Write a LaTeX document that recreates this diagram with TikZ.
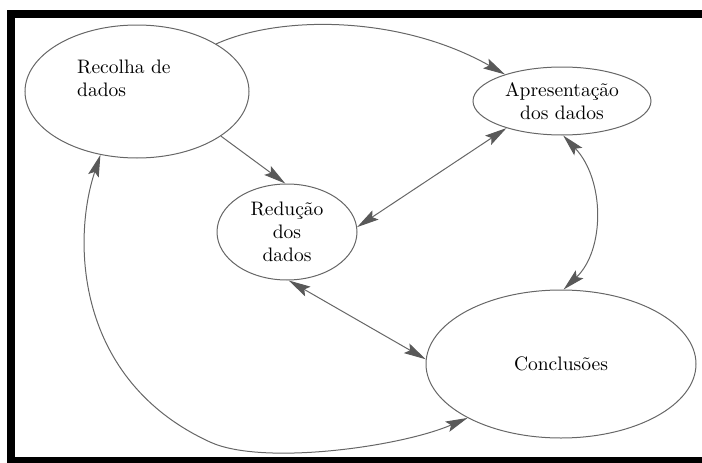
\documentclass[tikz,border=0pt]{standalone}
\usepackage{fontspec}
\setmainfont{lmroman10-regular.otf}[BoldFont=lmroman10-bold.otf, ItalicFont=lmroman10-italic.otf]
\usetikzlibrary{shapes.geometric,arrows.meta}
\tikzset{hd/.tip={Stealth[length=22pt,width=11pt,inset=4pt,fill=black!65,color=black!65]}}
\begin{document}
\begin{tikzpicture}[x=1pt,y=-1pt,
  bubble/.style={draw=black!60, line width=1pt, ellipse, inner sep=0pt, align=center,
    font=\fontsize{19.5}{23}\selectfont, text=black},
  conn/.style={draw=black!60, line width=1pt},
  lbl/.style={font=\fontsize{19.5}{23}\selectfont, text=black, align=left, inner sep=0pt}]
\useasboundingbox (0,0) rectangle (702,463);
% frame
\fill[black] (7,10) rectangle (702,18);
\fill[black] (7,10) rectangle (15,463);
\fill[black] (7,457) rectangle (702,463);
% nodes
\node[bubble, minimum width=224pt, minimum height=133pt] (rec) at (137,91.5) {};
\node[lbl, anchor=north west] (rectxt) at (77,60) {Recolha de\\dados};
\node[bubble, minimum width=178pt, minimum height=68pt] (apr) at (562,101) {Apresentação\\dos dados};
\node[bubble, minimum width=140pt, minimum height=96pt] (red) at (287,232) {Redução\\dos\\dados};
\node[bubble, minimum width=270pt, minimum height=148pt] (con) at (561,364) {Conclusões};
% connectors
\draw[conn, -{hd}] (rec.31) .. controls (280,15) and (400,15) .. (apr.155);
\draw[conn, -{hd}] (rec.-28) -- (red.92);
\draw[conn, {hd}-{hd}] (apr.206) -- (red.4);
\draw[conn, {hd}-{hd}] (apr.-88) .. controls (605,180) and (605,250) .. (con.88);
\draw[conn, {hd}-{hd}] (red.-88) -- (con.178);
\draw[conn, {hd}-{hd}] (rec.240) .. controls (72,240) and (75,380) .. (210,442)
   .. controls (262,466) and (400,447) .. (con.210);
\end{tikzpicture}
\end{document}
